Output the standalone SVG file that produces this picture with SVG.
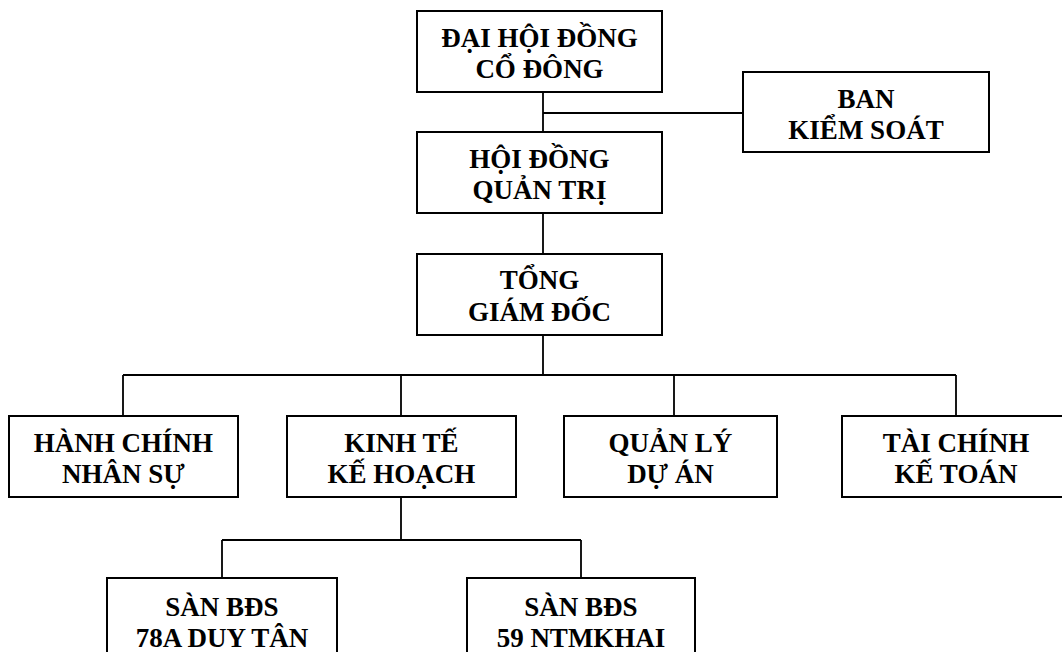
<svg xmlns="http://www.w3.org/2000/svg" width="1062" height="652" viewBox="0 0 1062 652">
<style>
.box{fill:#fff;stroke:#000;stroke-width:2}
.lbl{font-family:"Liberation Serif","Times New Roman",serif;font-weight:bold;font-size:27px;fill:#000;text-anchor:middle}
.ln{fill:none;stroke:#000;stroke-width:1.8}
</style>
<rect width="1062" height="652" fill="#fff"/>
<g id="connectors">
<path class="ln" d="M543 92V132M543 113H743M543 213V254M543 335V375"/>
<path class="ln" d="M123 375H956M123 375V416M401 375V416M674 375V416M956 375V416"/>
<path class="ln" d="M401 497V540M222 540H581M222 540V578M581 540V578"/>
</g>
<g id="dhdcd"><rect class="box" x="417" y="11" width="245" height="81"/>
<text class="lbl" x="539.5" y="46.5">ĐẠI HỘI ĐỒNG</text><text class="lbl" x="539.5" y="77.5">CỔ ĐÔNG</text></g>
<g id="bks"><rect class="box" x="743" y="72" width="246" height="80"/>
<text class="lbl" x="866" y="107.5">BAN</text><text class="lbl" x="866" y="138.5">KIỂM SOÁT</text></g>
<g id="hdqt"><rect class="box" x="417" y="132" width="245" height="81"/>
<text class="lbl" x="539.5" y="167.5">HỘI ĐỒNG</text><text class="lbl" x="539.5" y="198.5">QUẢN TRỊ</text></g>
<g id="tgd"><rect class="box" x="417" y="254" width="245" height="81"/>
<text class="lbl" x="539.5" y="289">TỔNG</text><text class="lbl" x="539.5" y="320.5">GIÁM ĐỐC</text></g>
<g id="hcns"><rect class="box" x="9" y="416" width="229" height="81"/>
<text class="lbl" x="123.5" y="451.5">HÀNH CHÍNH</text><text class="lbl" x="123.5" y="482.5">NHÂN SỰ</text></g>
<g id="ktkh"><rect class="box" x="287" y="416" width="229" height="81"/>
<text class="lbl" x="401.5" y="451.5">KINH TẾ</text><text class="lbl" x="401.5" y="482.5">KẾ HOẠCH</text></g>
<g id="qlda"><rect class="box" x="564" y="416" width="213" height="81"/>
<text class="lbl" x="670.5" y="451.5">QUẢN LÝ</text><text class="lbl" x="670.5" y="482.5">DỰ ÁN</text></g>
<g id="tckt"><rect class="box" x="842" y="416" width="228" height="81"/>
<text class="lbl" x="956" y="451.5">TÀI CHÍNH</text><text class="lbl" x="956" y="482.5">KẾ TOÁN</text></g>
<g id="san78"><rect class="box" x="107" y="578" width="230" height="90"/>
<text class="lbl" x="222" y="616">SÀN BĐS</text><text class="lbl" x="222" y="647">78A DUY TÂN</text></g>
<g id="san59"><rect class="box" x="467" y="578" width="228" height="90"/>
<text class="lbl" x="581" y="616">SÀN BĐS</text><text class="lbl" x="581" y="647">59 NTMKHAI</text></g>
</svg>
